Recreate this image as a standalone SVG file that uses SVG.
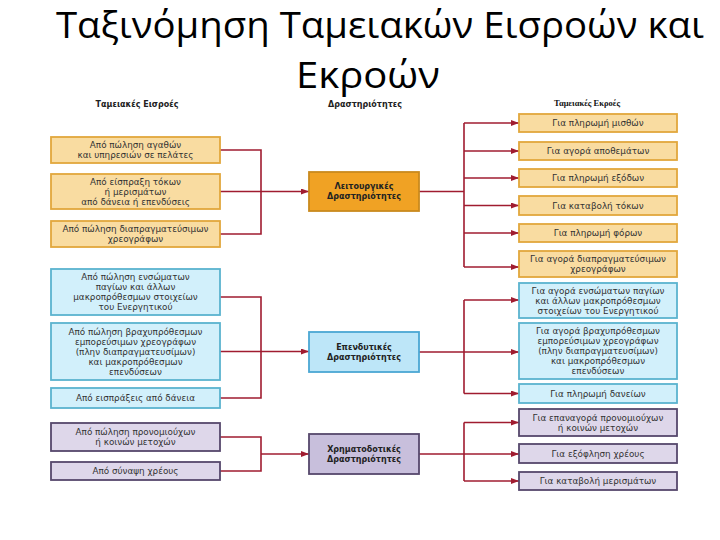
<svg xmlns="http://www.w3.org/2000/svg" width="720" height="540" viewBox="0 0 720 540">
<defs>
<style>
.title{font-family:"Open Sans","Liberation Sans",sans-serif;font-size:36px;fill:#000}
.hdr{font-family:"DejaVu Sans",sans-serif;font-size:8px;font-weight:bold;fill:#222;text-anchor:middle}
.hdr2{font-family:"Liberation Serif",serif;font-size:8.5px;font-weight:bold;fill:#111;text-anchor:middle}
.t{font-family:"DejaVu Sans",sans-serif;font-size:8.8px;fill:#333;text-anchor:middle}
.tb{font-family:"DejaVu Sans",sans-serif;font-size:8px;font-weight:bold;fill:#222;text-anchor:middle}
.o{fill:#f9dca1;stroke:#e2a73c;stroke-width:1.8}
.om{fill:#f0a224;stroke:#c98a1e;stroke-width:1.8}
.b{fill:#d2f0fb;stroke:#5ab3cf;stroke-width:1.8}
.bm{fill:#bde6f8;stroke:#4ba7d3;stroke-width:1.8}
.p{fill:#ded7ea;stroke:#56486c;stroke-width:1.8}
.pm{fill:#c8bfdc;stroke:#56486c;stroke-width:1.8}
.c{fill:none;stroke:#a01c30;stroke-width:1.6}
</style>
<marker id="ah" viewBox="0 0 8 6" refX="8" refY="3" markerWidth="8" markerHeight="6" markerUnits="userSpaceOnUse" orient="auto">
<path d="M0,0 L8,3 L0,6 z" fill="#a01c30"/>
</marker>
</defs>
<rect width="720" height="540" fill="#fff"/>

<g id="title">
<text class="title" x="380" y="38" text-anchor="middle" textLength="648" lengthAdjust="spacingAndGlyphs">Ταξινόμηση Ταμειακών Εισροών και</text>
<text class="title" x="368" y="88" text-anchor="middle" textLength="144" lengthAdjust="spacingAndGlyphs">Εκροών</text>
</g>

<g id="headers">
<text class="hdr" x="137" y="107">Ταμειακές Εισροές</text>
<text class="hdr" x="365" y="107">Δραστηριότητες</text>
<text class="hdr2" x="587" y="106">Ταμειακές Εκροές</text>
</g>

<g id="connectors">
<path class="c" d="M220,150 H261 V234 H220"/>
<path class="c" d="M220,191.5 H309" marker-end="url(#ah)"/>
<path class="c" d="M220,297 H261 V398 H220"/>
<path class="c" d="M220,351.5 H309" marker-end="url(#ah)"/>
<path class="c" d="M220,437 H261 V471 H220"/>
<path class="c" d="M261,454 H309" marker-end="url(#ah)"/>
<path class="c" d="M419,191.5 H464 M464,123 V267"/>
<path class="c" d="M464,123 H519" marker-end="url(#ah)"/>
<path class="c" d="M464,151 H519" marker-end="url(#ah)"/>
<path class="c" d="M464,178 H519" marker-end="url(#ah)"/>
<path class="c" d="M464,205.5 H519" marker-end="url(#ah)"/>
<path class="c" d="M464,233 H519" marker-end="url(#ah)"/>
<path class="c" d="M464,267 H519" marker-end="url(#ah)"/>
<path class="c" d="M419,352 H464 M464,300 V393.5"/>
<path class="c" d="M464,300 H519" marker-end="url(#ah)"/>
<path class="c" d="M464,352 H519" marker-end="url(#ah)"/>
<path class="c" d="M464,393.5 H519" marker-end="url(#ah)"/>
<path class="c" d="M419,454 H464 M464,422.5 V481"/>
<path class="c" d="M464,422.5 H519" marker-end="url(#ah)"/>
<path class="c" d="M464,454 H519" marker-end="url(#ah)"/>
<path class="c" d="M464,481 H519" marker-end="url(#ah)"/>
</g>

<g id="in1"><rect class="o" x="51" y="137" width="169" height="26"/>
<text class="t" x="135.5" y="148">Από πώληση αγαθών</text><text class="t" x="135.5" y="158">και υπηρεσιών σε πελάτες</text></g>
<g id="in2"><rect class="o" x="51" y="174" width="169" height="35"/>
<text class="t" x="135.5" y="184.5">Από είσπραξη τόκων</text><text class="t" x="135.5" y="194.5">ή μερισμάτων</text><text class="t" x="135.5" y="204.5">από δάνεια ή επενδύσεις</text></g>
<g id="in3"><rect class="o" x="51" y="221" width="169" height="26"/>
<text class="t" x="135.5" y="232">Από πώληση διαπραγματεύσιμων</text><text class="t" x="135.5" y="242">χρεογράφων</text></g>
<g id="in4"><rect class="b" x="51" y="269" width="169" height="46"/>
<text class="t" x="135.5" y="280">Από πώληση ενσώματων</text><text class="t" x="135.5" y="290">παγίων και άλλων</text><text class="t" x="135.5" y="300">μακροπρόθεσμων στοιχείων</text><text class="t" x="135.5" y="310">του Ενεργητικού</text></g>
<g id="in5"><rect class="b" x="51" y="323" width="169" height="57"/>
<text class="t" x="135.5" y="334.5">Από πώληση βραχυπρόθεσμων</text><text class="t" x="135.5" y="344.5">εμπορεύσιμων χρεογράφων</text><text class="t" x="135.5" y="354.5">(πλην διαπραγματευσίμων)</text><text class="t" x="135.5" y="364.5">και μακροπρόθεσμων</text><text class="t" x="135.5" y="374.5">επενδύσεων</text></g>
<g id="in6"><rect class="b" x="51" y="388" width="169" height="20"/>
<text class="t" x="135.5" y="401">Από εισπράξεις από δάνεια</text></g>
<g id="in7"><rect class="p" x="51" y="423" width="169" height="28"/>
<text class="t" x="135.5" y="435">Από πώληση προνομιούχων</text><text class="t" x="135.5" y="445">ή κοινών μετοχών</text></g>
<g id="in8"><rect class="p" x="51" y="462" width="169" height="18"/>
<text class="t" x="135.5" y="474">Από σύναψη χρέους</text></g>

<g id="operating"><rect class="om" x="309" y="172" width="110" height="39"/>
<text class="tb" x="364" y="189">Λειτουργικές</text><text class="tb" x="364" y="199">Δραστηριότητες</text></g>
<g id="investing"><rect class="bm" x="309" y="332" width="110" height="40"/>
<text class="tb" x="364" y="350">Επενδυτικές</text><text class="tb" x="364" y="360">Δραστηριότητες</text></g>
<g id="financing"><rect class="pm" x="309" y="434" width="110" height="40"/>
<text class="tb" x="364" y="452">Χρηματοδοτικές</text><text class="tb" x="364" y="462">Δραστηριότητες</text></g>

<g id="out1"><rect class="o" x="519" y="114" width="158" height="18"/>
<text class="t" x="598" y="126">Για πληρωμή μισθών</text></g>
<g id="out2"><rect class="o" x="519" y="142" width="158" height="18"/>
<text class="t" x="598" y="154">Για αγορά αποθεμάτων</text></g>
<g id="out3"><rect class="o" x="519" y="169" width="158" height="18"/>
<text class="t" x="598" y="181">Για πληρωμή εξόδων</text></g>
<g id="out4"><rect class="o" x="519" y="196" width="158" height="19"/>
<text class="t" x="598" y="208.5">Για καταβολή τόκων</text></g>
<g id="out5"><rect class="o" x="519" y="224" width="158" height="18"/>
<text class="t" x="598" y="236">Για πληρωμή φόρων</text></g>
<g id="out6"><rect class="o" x="519" y="251" width="158" height="26"/>
<text class="t" x="598" y="262">Για αγορά διαπραγματεύσιμων</text><text class="t" x="598" y="272">χρεογράφων</text></g>
<g id="out7"><rect class="b" x="519" y="283" width="158" height="35"/>
<text class="t" x="598" y="293.5">Για αγορά ενσώματων παγίων</text><text class="t" x="598" y="303.5">και άλλων μακροπρόθεσμων</text><text class="t" x="598" y="313.5">στοιχείων του Ενεργητικού</text></g>
<g id="out8"><rect class="b" x="519" y="323" width="158" height="56"/>
<text class="t" x="598" y="334">Για αγορά βραχυπρόθεσμων</text><text class="t" x="598" y="344">εμπορεύσιμων χρεογράφων</text><text class="t" x="598" y="354">(πλην διαπραγματευσίμων)</text><text class="t" x="598" y="364">και μακροπρόθεσμων</text><text class="t" x="598" y="374">επενδύσεων</text></g>
<g id="out9"><rect class="b" x="519" y="384" width="158" height="19"/>
<text class="t" x="598" y="396.5">Για πληρωμή δανείων</text></g>
<g id="out10"><rect class="p" x="519" y="409" width="158" height="27"/>
<text class="t" x="598" y="420.5">Για επαναγορά προνομιούχων</text><text class="t" x="598" y="430.5">ή κοινών μετοχών</text></g>
<g id="out11"><rect class="p" x="519" y="444" width="158" height="19"/>
<text class="t" x="598" y="456.5">Για εξόφληση χρέους</text></g>
<g id="out12"><rect class="p" x="519" y="472" width="158" height="18"/>
<text class="t" x="598" y="484">Για καταβολή μερισμάτων</text></g>
</svg>
